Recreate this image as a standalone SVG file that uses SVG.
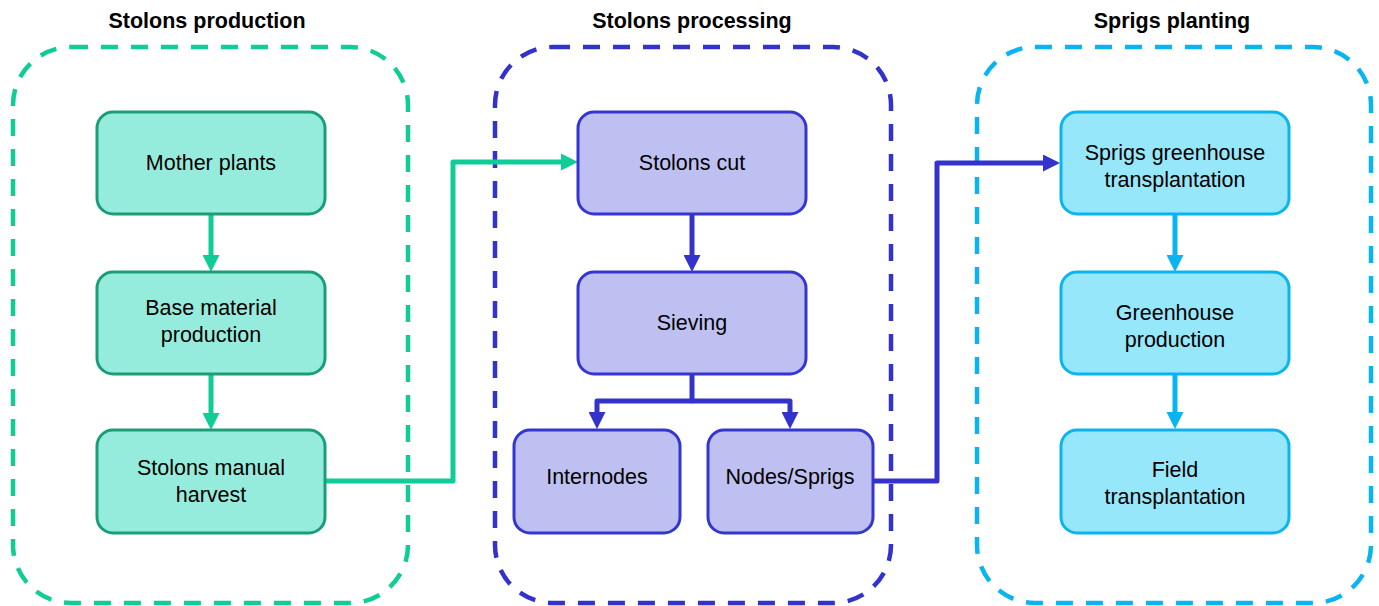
<svg xmlns="http://www.w3.org/2000/svg" width="1379" height="606" viewBox="0 0 1379 606">
<style>
.title{font-family:"Liberation Sans",Arial,sans-serif;font-weight:bold;font-size:21.5px;fill:#000;text-anchor:middle}
.lbl{font-family:"Liberation Sans",Arial,sans-serif;font-size:21.5px;fill:#000;text-anchor:middle}
.cont{fill:none;stroke-width:4.5;stroke-dasharray:17 13}
.g-c{stroke:#10cc97}
.b-c{stroke:#3333cc}
.l-c{stroke:#0ab4f0}
.g-n{fill:#96ecdc;stroke:#1a9e78;stroke-width:3}
.b-n{fill:#bfc0f2;stroke:#3535cf;stroke-width:3}
.l-n{fill:#96e7fa;stroke:#0ab4f0;stroke-width:3}
.con{fill:none;stroke-width:5;stroke-linejoin:round}
</style>
<defs>
<marker id="ag" markerUnits="userSpaceOnUse" markerWidth="17" markerHeight="17" refX="1" refY="8.5" orient="auto"><path d="M0,0 L17,8.5 L0,17 z" fill="#10cc97"/></marker>
<marker id="ab" markerUnits="userSpaceOnUse" markerWidth="17" markerHeight="17" refX="1" refY="8.5" orient="auto"><path d="M0,0 L17,8.5 L0,17 z" fill="#3333cc"/></marker>
<marker id="al" markerUnits="userSpaceOnUse" markerWidth="17" markerHeight="17" refX="1" refY="8.5" orient="auto"><path d="M0,0 L17,8.5 L0,17 z" fill="#0ab4f0"/></marker>
</defs>

<g id="stage-production">
<text class="title" x="207" y="28">Stolons production</text>
<rect class="cont g-c" x="13" y="47" width="395" height="556" rx="58" ry="58"/>
</g>
<g id="stage-processing">
<text class="title" x="692" y="28">Stolons processing</text>
<rect class="cont b-c" x="495" y="47" width="396" height="556" rx="58" ry="58"/>
</g>
<g id="stage-planting">
<text class="title" x="1172" y="28">Sprigs planting</text>
<rect class="cont l-c" x="977" y="47" width="394" height="556" rx="58" ry="58"/>
</g>

<g id="connectors">
<path class="con" stroke="#10cc97" d="M211,214 V256" marker-end="url(#ag)"/>
<path class="con" stroke="#10cc97" d="M211,374 V414" marker-end="url(#ag)"/>
<path class="con" stroke="#10cc97" d="M325,481 H453 V162 H562" marker-end="url(#ag)"/>
<path class="con" stroke="#3333cc" d="M692,214 V256" marker-end="url(#ab)"/>
<path class="con" stroke="#3333cc" d="M692,374 V401 H597 V413" marker-end="url(#ab)"/>
<path class="con" stroke="#3333cc" d="M692,401 H790 V413" marker-end="url(#ab)"/>
<path class="con" stroke="#3333cc" d="M873,481 H937 V163 H1044" marker-end="url(#ab)"/>
<path class="con" stroke="#0ab4f0" d="M1175,214 V256" marker-end="url(#al)"/>
<path class="con" stroke="#0ab4f0" d="M1175,374 V413" marker-end="url(#al)"/>
</g>

<g id="mother-plants">
<rect class="g-n" x="97" y="112" width="228" height="102" rx="16"/>
<text class="lbl" x="211" y="170">Mother plants</text>
</g>
<g id="base-material">
<rect class="g-n" x="97" y="272" width="228" height="102" rx="16"/>
<text class="lbl" x="211" y="315">Base material</text>
<text class="lbl" x="211" y="342">production</text>
</g>
<g id="manual-harvest">
<rect class="g-n" x="97" y="430" width="228" height="103" rx="16"/>
<text class="lbl" x="211" y="475">Stolons manual</text>
<text class="lbl" x="211" y="502">harvest</text>
</g>

<g id="stolons-cut">
<rect class="b-n" x="578" y="112" width="228" height="102" rx="16"/>
<text class="lbl" x="692" y="170">Stolons cut</text>
</g>
<g id="sieving">
<rect class="b-n" x="578" y="272" width="228" height="102" rx="16"/>
<text class="lbl" x="692" y="330">Sieving</text>
</g>
<g id="internodes">
<rect class="b-n" x="514" y="430" width="166" height="103" rx="16"/>
<text class="lbl" x="597" y="484">Internodes</text>
</g>
<g id="nodes-sprigs">
<rect class="b-n" x="708" y="430" width="165" height="103" rx="16"/>
<text class="lbl" x="790" y="484">Nodes/Sprigs</text>
</g>

<g id="greenhouse-transplantation">
<rect class="l-n" x="1061" y="112" width="228" height="102" rx="16"/>
<text class="lbl" x="1175" y="160">Sprigs greenhouse</text>
<text class="lbl" x="1175" y="187">transplantation</text>
</g>
<g id="greenhouse-production">
<rect class="l-n" x="1061" y="272" width="228" height="102" rx="16"/>
<text class="lbl" x="1175" y="320">Greenhouse</text>
<text class="lbl" x="1175" y="347">production</text>
</g>
<g id="field-transplantation">
<rect class="l-n" x="1061" y="430" width="228" height="103" rx="16"/>
<text class="lbl" x="1175" y="477">Field</text>
<text class="lbl" x="1175" y="504">transplantation</text>
</g>
</svg>
